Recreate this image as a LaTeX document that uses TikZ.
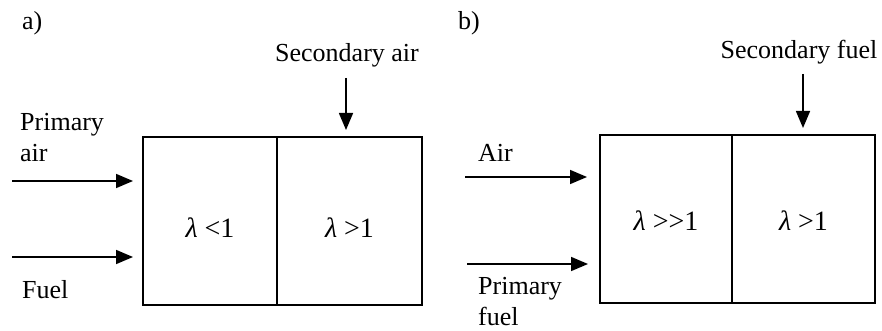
\documentclass[tikz,border=0pt]{standalone}
\usepackage{fontspec}
\setmainfont{Liberation Serif}
\usetikzlibrary{arrows.meta,positioning}

\begin{document}
\begin{tikzpicture}[x=1pt,y=-1pt,
    zone/.style={draw,line width=1.6pt,minimum height=168pt,inner sep=0pt,outer sep=0pt,
      text depth=0pt,font=\fontsize{28}{30}\selectfont},
    feed/.style={-{Triangle[length=17pt,width=14pt]},line width=1.6pt},
    lbl/.style={font=\fontsize{26}{31}\selectfont,inner sep=0pt,align=left}]
    \useasboundingbox (0,0) rectangle (882,331);
    % a) air staging
    \node[zone,minimum width=134pt,text height=32pt] (rich) at (210,221) {{\itshape λ} <1};
    \node[zone,minimum width=145pt,text height=32pt,right=0pt of rich] (lean) {{\itshape λ} >1};
    \node[lbl,anchor=base west] (ta) at (22,30) {a)};
    \node[lbl,anchor=base] (secair) at (347,62) {Secondary air};
    \node[lbl,anchor=base west] (priair) at (20,161) {Primary\\air};
    \node[lbl,anchor=base west] (fuela) at (22,298) {Fuel};
    \coordinate (pa) at (12,181);
    \coordinate (fa) at (12,257);
    \coordinate (sa) at (346,78);
    \draw[feed,shorten >=10pt] (pa) -- (pa -| rich.west);
    \draw[feed,shorten >=10pt] (fa) -- (fa -| rich.west);
    \draw[feed,shorten >=7pt] (sa) -- (sa |- lean.north);
    % b) fuel staging
    \node[zone,minimum width=132pt,text height=22pt] (lean2) at (666,219) {{\itshape λ} >{}>1};
    \node[zone,minimum width=143pt,text height=22pt,right=0pt of lean2] (mid2) {{\itshape λ} >1};
    \node[lbl,anchor=base west] (tb) at (458,30) {b)};
    \node[lbl,anchor=base] (secfuel) at (799,59) {Secondary fuel};
    \node[lbl,anchor=base west] (airb) at (478,161) {Air};
    \node[lbl,anchor=base west] (prifuel) at (478,325) {Primary\\fuel};
    \coordinate (ab) at (465,177);
    \coordinate (fb) at (467,264);
    \coordinate (sb) at (803,74);
    \draw[feed,shorten >=13pt] (ab) -- (ab -| lean2.west);
    \draw[feed,shorten >=12pt] (fb) -- (fb -| lean2.west);
    \draw[feed,shorten >=7pt] (sb) -- (sb |- mid2.north);
\end{tikzpicture}
\end{document}
